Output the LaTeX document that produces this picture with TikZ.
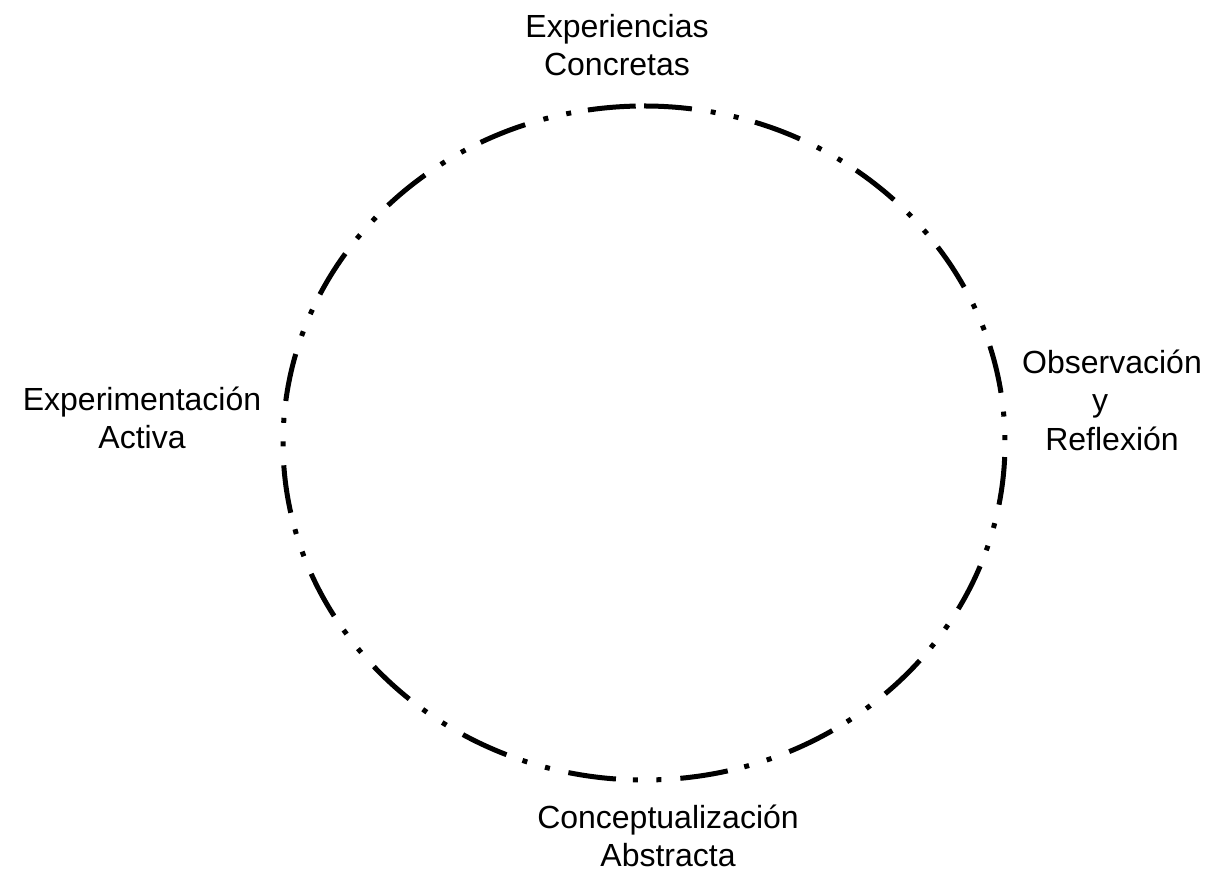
\documentclass[tikz,border=0pt]{standalone}
\usepackage{fontspec}
\setmainfont{Liberation Sans}
\begin{document}
\begin{tikzpicture}[x=1pt,y=1pt,
  lbl/.style={align=center,inner sep=0pt,font=\fontsize{32}{38.5}\selectfont},
  cyc/.style={line width=5pt,dash pattern=on 48pt off 19pt on 5pt off 18.5pt on 5pt off 17pt}]
\useasboundingbox (0,0) rectangle (1214,872);
\coordinate (top) at (644,766);
\draw[cyc] (top) arc[start angle=90,end angle=-270,x radius=361pt,y radius=337pt];
\node[lbl] (ec) at (617,827) {Experiencias\\Concretas};
\node[lbl] (or) at (1112,472) {Observación\\y\kern24pt\\Reflexión};
\node[lbl] (ea) at (142,454) {Experimentación\\Activa};
\node[lbl] (ca) at (668,36) {Conceptualización\\Abstracta};
\end{tikzpicture}
\end{document}
